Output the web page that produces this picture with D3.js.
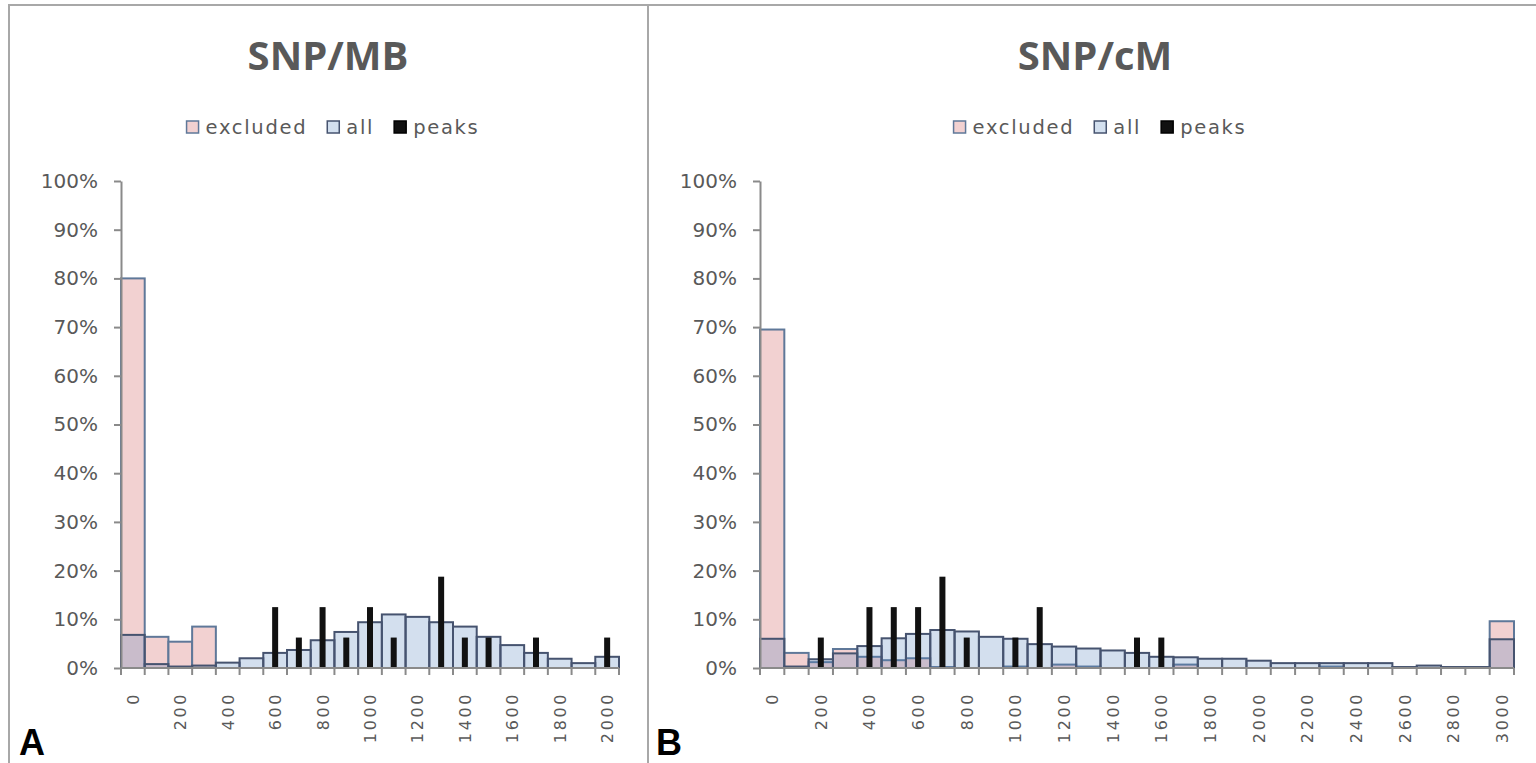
<!DOCTYPE html>
<html><head><meta charset="utf-8">
<script src="https://cdn.jsdelivr.net/npm/d3@7"></script>
<style>body{margin:0;background:#fff}</style>
</head><body><svg id="c" width="1536" height="763"></svg>
<script>
// ---- Data: SNP/MB (panel A) ----
const categoriesA = [0,100,200,300,400,500,600,700,800,900,1000,1100,1200,1300,1400,1500,1600,1700,1800,1900,2000];
const excludedA = [80,6.4,5.4,8.5,0,0,0,0,0,0,0,0,0,0,0,0,0,0,0,0,0];
const allA      = [6.8,0.8,0.3,0.5,1.1,2.0,3.1,3.7,5.7,7.4,9.4,11.0,10.5,9.4,8.5,6.4,4.7,3.1,1.9,1.0,2.3];
const peaksA    = [0,0,0,0,0,0,12.5,6.25,12.5,6.25,12.5,6.25,0,18.75,6.25,6.25,0,6.25,0,0,6.25];
const xLabelsA  = [0,200,400,600,800,1000,1200,1400,1600,1800,2000];

// ---- Data: SNP/cM (panel B) ----
const categoriesB = [0,100,200,300,400,500,600,700,800,900,1000,1100,1200,1300,1400,1500,1600,1700,1800,1900,2000,2100,2200,2300,2400,2500,2600,2700,2800,2900,3000];
const excludedB = [69.5,3.1,1.2,3.9,2.3,1.6,2.0,0.2,0,0,0.3,0,0.7,0.3,0,0,0,0.7,0,0,0,0,0,0.3,0,0,0,0,0,0,9.6];
const allB      = [6.0,0.3,1.8,3.0,4.5,6.1,7.0,7.8,7.5,6.4,6.0,4.9,4.4,4.0,3.6,3.1,2.3,2.2,1.9,1.9,1.5,1.0,1.0,1.0,1.0,1.0,0.2,0.5,0.2,0.2,5.9];
const peaksB    = [0,0,6.25,0,12.5,12.5,12.5,18.75,6.25,0,6.25,12.5,0,0,0,6.25,6.25,0,0,0,0,0,0,0,0,0,0,0,0,0,0];
const xLabelsB  = [0,200,400,600,800,1000,1200,1400,1600,1800,2000,2200,2400,2600,2800,3000];

const yTicks = [0,10,20,30,40,50,60,70,80,90,100];
const seriesNames = ["excluded","all","peaks"];

const svg = d3.select("#c");
const TXT = "#595959";
const C_EXCL = "#F2D1D1", S_EXCL = "#5F7899";
const C_ALL = "rgba(79,129,189,0.25)", S_ALL = "#46536F";
const C_PEAK = "#111111";

// frame
svg.append("path").attr("d","M9,763 V5 H1536 M648,5 V763")
  .attr("fill","none").attr("stroke","#A8A8A8").attr("stroke-width",2);

function panel(o){
  const g = svg.append("g");
  const x = d3.scaleBand().domain(o.cats).range([o.x0,o.x1]).padding(0);
  const y = d3.scaleLinear().domain([0,100]).range([668,181]);
  const bw = x.bandwidth();
  const rows = o.cats.map((c,i)=>({c, e:o.excl[i], a:o.all[i], p:o.peaks[i]}));

  g.append("g").selectAll("rect").data(rows.filter(d=>d.e>0)).join("rect")
    .attr("x",d=>x(d.c)).attr("y",d=>y(d.e)).attr("width",bw).attr("height",d=>y(0)-y(d.e))
    .attr("fill",C_EXCL).attr("stroke",S_EXCL).attr("stroke-width",2);
  g.append("g").selectAll("rect").data(rows.filter(d=>d.a>0)).join("rect")
    .attr("x",d=>x(d.c)).attr("y",d=>y(d.a)).attr("width",bw).attr("height",d=>y(0)-y(d.a))
    .attr("fill",C_ALL).attr("stroke",S_ALL).attr("stroke-width",2);
  g.append("g").selectAll("rect").data(rows.filter(d=>d.p>0)).join("rect")
    .attr("x",d=>x(d.c)+bw/2-3).attr("y",d=>y(d.p)).attr("width",6).attr("height",d=>y(0)-y(d.p))
    .attr("fill",C_PEAK);

  // y axis
  const ya = g.append("g").attr("transform",`translate(${o.x0},0)`)
    .call(d3.axisLeft(y).tickValues(yTicks).tickFormat(d=>d+"%").tickSize(7).tickSizeOuter(0).tickPadding(16));
  ya.select(".domain").attr("stroke","#8A8A8A").attr("stroke-width",2);
  ya.selectAll(".tick line").attr("stroke","#8A8A8A").attr("stroke-width",2);
  ya.selectAll("text").attr("fill",TXT).style("font-family","DejaVu Sans").style("font-size","20px");

  // x axis
  const xa = g.append("g").attr("transform","translate(0,668)");
  xa.append("line").attr("x1",o.x0).attr("x2",o.x1).attr("stroke","#8A8A8A").attr("stroke-width",2);
  const bounds = o.cats.map(c=>x(c)).concat([x(o.cats[o.cats.length-1])+bw]);
  xa.selectAll(".tk").data(bounds).join("line").attr("class","tk")
    .attr("x1",d=>d).attr("x2",d=>d).attr("y1",0).attr("y2",7)
    .attr("stroke","#8A8A8A").attr("stroke-width",2);
  xa.selectAll(".lb").data(o.xlabels).join("text").attr("class","lb")
    .attr("transform",d=>`translate(${x(d)+bw/2+6},24) rotate(-90)`)
    .attr("text-anchor","end").attr("fill",TXT)
    .style("font-family","DejaVu Sans").style("font-size","16px").style("letter-spacing","2.6px")
    .text(d=>d);

  // title
  g.append("text").attr("x",o.cx).attr("y",70).attr("text-anchor","middle")
    .attr("fill",TXT).style("font-family","Open Sans").style("font-weight","700").style("font-size","40px")
    .text(o.title);

  // legend
  const lg = g.append("g");
  const fills = [C_EXCL,"#D3E0EF",C_PEAK], strokes=[S_EXCL,S_ALL,"#000"];
  let cur = 0;
  seriesNames.forEach((n,i)=>{
    const it = lg.append("g").attr("transform",`translate(${cur},0)`);
    it.append("rect").attr("x",0).attr("y",-13).attr("width",12).attr("height",12)
      .attr("fill",fills[i]).attr("stroke",strokes[i]).attr("stroke-width",1.5);
    const t = it.append("text").attr("x",19).attr("y",0).attr("fill",TXT)
      .style("font-family","DejaVu Sans").style("font-size","19.5px").style("letter-spacing","1.7px").text(n);
    const w = t.node().getComputedTextLength();
    cur += 19 + w + 20;
  });
  const total = cur - 20;
  lg.attr("transform",`translate(${o.lx - total/2},134)`);

  g.append("text").attr("x",o.lettX).attr("y",755).attr("fill","#000")
    .style("font-family","Liberation Sans").style("font-weight","700").style("font-size","36px").text(o.letter);
}

panel({cats:categoriesA, excl:excludedA, all:allA, peaks:peaksA, xlabels:xLabelsA,
  x0:121, x1:619, title:"SNP/MB", cx:328, lx:333, letter:"A", lettX:19});
panel({cats:categoriesB, excl:excludedB, all:allB, peaks:peaksB, xlabels:xLabelsB,
  x0:760, x1:1514, title:"SNP/cM", cx:1095, lx:1100, letter:"B", lettX:656});
</script></body></html>
